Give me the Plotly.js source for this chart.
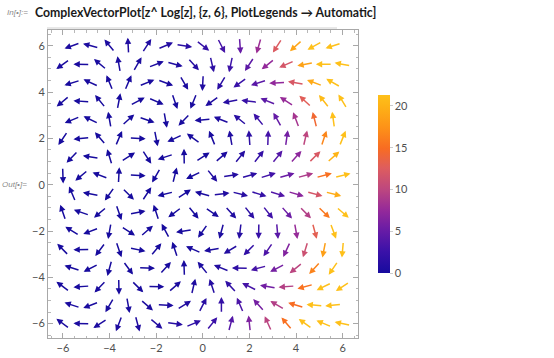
<!DOCTYPE html>
<html>
<head>
<meta charset="utf-8">
<script src="https://cdn.plot.ly/plotly-3.0.1.min.js"></script>
<style>html,body{margin:0;padding:0;background:#fff;}#plot{width:554px;height:358px;}</style>
</head>
<body>
<div id="plot"></div>
<script>
// Grid: rows of sample points (staggered); even rows use xEven, odd rows use xOdd
const rowY  = [6, 5.2, 4.4, 3.6, 2.8, 2.0, 1.2, 0.4, -0.4, -1.2, -2.0, -2.8, -3.6, -4.4, -5.2, -6.0];
const xEven = [-5.6, -4.8, -4.0, -3.2, -2.4, -1.6, -0.8, 0, 0.8, 1.6, 2.4, 3.2, 4.0, 4.8, 5.6];
const xOdd  = [-6.0, -5.2, -4.4, -3.6, -2.8, -2.0, -1.2, -0.4, 0.4, 1.2, 2.0, 2.8, 3.6, 4.4, 5.2, 6.0];

// Arrow directions (degrees) read per row
const angY6   = [200, 165, 129, 93, 57, 23, -9, -38, -63, -86, -106, -123, -138, -151, -162];
const angY52  = [216, 179, 140, 100, 60, 21, -15, -48, -77, -102, -123, -141, -156, -169, 180, 170];
const angY44  = [197, 155, 112, 67, 22, -20, -60, -93, -121, -144, -162, -177, 170, 159, 150];
const angY36  = [220, 176, 129, 79, 28, -23, -71, -112, -145, -169, 173, 158, 147, 137, 128, 121];
const angY28  = [203, 154, 100, 42, -19, -80, -134, -175, 158, 141, 129, 119, 111, 104, 98];
const angY20  = [236, 186, 130, 67, -3, -79, -155, 144, 112, 100, 94, 88, 82, 77, 72, 68];
const angY12  = [226, 171, 107, 32, -57, -162, 91, 33, 41, 51, 52, 51, 48, 45, 42];
const angY04  = [-88, 220, 159, 87, -3, -120, 76, -154, -51, 9, 16, 17, 16, 15, 15, 14];
const angYm04 = [113, 169, -125, -45, 57, -166, 34, 165, 6, -14, -17, -17, -16, -15, -14];
const angYm12 = [109, 161, -140, -71, 11, 108, -143, -51, -34, -48, -52, -52, -49, -46, -44, -41];
const angYm20 = [148, -159, -100, -33, 41, 118, -172, -125, -105, -97, -91, -85, -80, -75, -70];
const angYm28 = [134, -179, -127, -71, -12, 50, 108, 156, -170, -149, -135, -124, -115, -107, -101, -95];
const angYm36 = [162, -153, -105, -54, -2, 48, 92, 129, 158, 179, -165, -152, -141, -132, -124];
const angYm44 = [143, -176, -134, -89, -45, -1, 41, 77, 108, 133, 153, 170, -176, -165, -154, -146];
const angYm52 = [162, -159, -120, -80, -41, -3, 32, 63, 90, 113, 132, 149, 163, 175, -174];
const angYm60 = [143, 178, -147, -111, -75, -40, -7, 23, 51, 75, 96, 114, 130, 144, 157, 168];

// Magnitudes (colour values) read per row
const magY6   = [0.38, 0.41, 0.47, 0.56, 0.72, 0.98, 1.41, 2.1, 3.2, 5.0, 7.9, 12.3, 18.9, 28.6, 42.9];
const magY52  = [0.20, 0.21, 0.23, 0.26, 0.33, 0.45, 0.65, 1.01, 1.64, 2.71, 4.5, 7.4, 11.8, 18.7, 28.9, 44];
const magY44  = [0.10, 0.11, 0.12, 0.14, 0.19, 0.27, 0.44, 0.76, 1.36, 2.43, 4.3, 7.3, 12.0, 19.3, 30];
const magY36  = [0.05, 0.05, 0.05, 0.06, 0.07, 0.10, 0.16, 0.31, 0.62, 1.24, 2.4, 4.4, 7.6, 12.8, 20.8, 32.9];
const magY28  = [0.02, 0.02, 0.02, 0.02, 0.03, 0.05, 0.10, 0.24, 0.59, 1.30, 2.6, 4.9, 8.5, 14.3, 23.3];
const magY20  = [0.01, 0.01, 0.01, 0.01, 0.01, 0.01, 0.02, 0.07, 0.25, 0.71, 1.59, 3.1, 5.7, 10.0, 16.7, 27.1];
const magY12  = [0.004, 0.004, 0.004, 0.005, 0.006, 0.01, 0.01, 0.09, 0.44, 1.07, 2.1, 4.0, 7.1, 12.1, 20.1];
const magY04  = [0.001, 0.001, 0.001, 0.001, 0.001, 0.001, 0.001, 0.005, 0.75, 0.95, 1.6, 2.9, 5.2, 9.0, 15.2, 24.9];
const magYm04 = [0.001, 0.001, 0.001, 0.001, 0.001, 0.002, 0.001, 0.20, 0.82, 1.21, 2.15, 3.9, 6.9, 11.8, 19.5];
const magYm12 = [0.004, 0.004, 0.004, 0.004, 0.004, 0.005, 0.01, 0.03, 0.22, 0.71, 1.53, 2.9, 5.3, 9.3, 15.7, 25.6];
const magYm20 = [0.01, 0.01, 0.01, 0.01, 0.01, 0.02, 0.04, 0.14, 0.44, 1.08, 2.26, 4.3, 7.6, 13.0, 21.3];
const magYm28 = [0.02, 0.02, 0.02, 0.02, 0.03, 0.04, 0.07, 0.16, 0.38, 0.89, 1.87, 3.6, 6.5, 11.1, 18.4, 29.4];
const magYm36 = [0.05, 0.05, 0.05, 0.06, 0.08, 0.13, 0.22, 0.44, 0.88, 1.74, 3.25, 5.8, 9.9, 16.4, 26.2];
const magYm44 = [0.10, 0.10, 0.11, 0.13, 0.16, 0.22, 0.34, 0.58, 1.02, 1.82, 3.2, 5.6, 9.4, 15.3, 24.2, 37.6];
const magYm52 = [0.20, 0.22, 0.24, 0.29, 0.38, 0.54, 0.81, 1.29, 2.11, 3.49, 5.75, 9.3, 14.9, 23.3, 35.7];
const magYm60 = [0.38, 0.40, 0.44, 0.51, 0.63, 0.84, 1.17, 1.71, 2.6, 4.0, 6.3, 9.8, 15.2, 23.3, 35, 52];

const angRows = [angY6, angY52, angY44, angY36, angY28, angY20, angY12, angY04,
                 angYm04, angYm12, angYm20, angYm28, angYm36, angYm44, angYm52, angYm60];
const magRows = [magY6, magY52, magY44, magY36, magY28, magY20, magY12, magY04,
                 magYm04, magYm12, magYm20, magYm28, magYm36, magYm44, magYm52, magYm60];

const legendTicks = [0, 5, 10, 15, 20];
const cMin = 0, cMax = 21.3;

const colorscale = [
  [0.00, '#170b9e'], [0.12, '#3a11a8'], [0.235, '#661ba6'], [0.35, '#94299a'],
  [0.47, '#bd477f'], [0.59, '#de5d5e'], [0.70, '#f86c22'], [0.82, '#fd9318'],
  [0.94, '#feb316'], [1.00, '#fec01a']
];
function hex2rgb(h){return [parseInt(h.substr(1,2),16),parseInt(h.substr(3,2),16),parseInt(h.substr(5,2),16)];}
function colorFor(v){
  let t = (v - cMin) / (cMax - cMin); t = Math.max(0, Math.min(1, t));
  for (let i = 1; i < colorscale.length; i++) {
    if (t <= colorscale[i][0]) {
      const t0 = colorscale[i-1][0], t1 = colorscale[i][0];
      const a = hex2rgb(colorscale[i-1][1]), b = hex2rgb(colorscale[i][1]);
      const f = (t - t0) / (t1 - t0);
      return 'rgb(' + a.map((c, k) => Math.round(c + (b[k]-c)*f)).join(',') + ')';
    }
  }
  return colorscale[colorscale.length-1][1];
}

const half = 0.35; // half arrow length in data units
const annotations = [];
rowY.forEach((y, r) => {
  const xs = (r % 2 === 0) ? xEven : xOdd;
  xs.forEach((x, c) => {
    const a = angRows[r][c] * Math.PI / 180;
    const dx = half * Math.cos(a), dy = half * Math.sin(a);
    annotations.push({
      xref: 'x', yref: 'y', axref: 'x', ayref: 'y',
      x: x + dx, y: y + dy, ax: x - dx, ay: y - dy,
      text: '', showarrow: true, arrowhead: 2, arrowsize: 0.85, arrowwidth: 1.5,
      arrowcolor: colorFor(magRows[r][c]), standoff: 0, startstandoff: 0
    });
  });
});

// labels outside the plot
annotations.push({xref:'paper', yref:'paper', x:(33-48)/310, y:(338-13)/308, xanchor:'left', yanchor:'middle',
  text:'<b>ComplexVectorPlot[z^ Log[z], {z, 6}, PlotLegends → Automatic]</b>', showarrow:false,
  font:{family:'Lato, sans-serif', size:12.3, color:'#1a1a1a'}});
annotations.push({xref:'paper', yref:'paper', x:(30-48)/310, y:(338-13)/308, xanchor:'right', yanchor:'middle',
  text:'<i>In[•]:=</i>', showarrow:false, font:{family:'Liberation Sans, sans-serif', size:8, color:'#8a8a8a'}});
annotations.push({xref:'paper', yref:'paper', x:(29-48)/310, y:(338-184)/308, xanchor:'right', yanchor:'middle',
  text:'<i>Out[•]=</i>', showarrow:false, font:{family:'Liberation Sans, sans-serif', size:8, color:'#8a8a8a'}});

const axisCommon = {
  showline: true, mirror: 'ticks', linecolor: '#a8a8a8', linewidth: 1,
  ticks: 'inside', ticklen: 5, tickcolor: '#a8a8a8', tickwidth: 1,
  dtick: 2, tick0: 0, showgrid: false, zeroline: false, fixedrange: true,
  tickfont: {family: 'Lato, Open Sans, sans-serif', size: 11, color: '#505050'},
  minor: {ticks: 'inside', ticklen: 2.5, dtick: 0.5, tickcolor: '#b8b8b8', showgrid: false}
};

const layout = {
  width: 554, height: 358, autosize: false,
  margin: {l: 48, r: 196, t: 30, b: 20, pad: 0},
  paper_bgcolor: '#fff', plot_bgcolor: '#fff',
  showlegend: false,
  xaxis: Object.assign({}, axisCommon, {range: [-6.64, 6.66]}),
  yaxis: Object.assign({}, axisCommon, {range: [-6.62, 6.68]}),
  annotations: annotations,
  shapes: [{type:'line', xref:'paper', yref:'paper', x0:(47-48)/310, x1:(337-48)/310,
            y0:(338-28)/308, y1:(338-28)/308, line:{color:'#d0d0d0', width:1}}]
};

const legendTrace = {
  type: 'scatter', mode: 'markers', x: [-50, -50], y: [0, 0], hoverinfo: 'skip', showlegend: false,
  marker: {color: [cMin, cMax], cmin: cMin, cmax: cMax, colorscale: colorscale, showscale: true,
    colorbar: {x: (368-48)/310, xanchor: 'left', y: (338-184)/308, yanchor: 'middle',
      len: 198, lenmode: 'pixels', thickness: 12, outlinewidth: 0, ypad: 10, xpad: 10,
      tickvals: legendTicks, ticks: 'outside', ticklen: 3, tickcolor: '#cccccc',
      tickfont: {family: 'Lato, Open Sans, sans-serif', size: 11, color: '#505050'}}}
};

Plotly.newPlot('plot', [legendTrace], layout, {displayModeBar: false, staticPlot: true});
</script>
</body>
</html>
